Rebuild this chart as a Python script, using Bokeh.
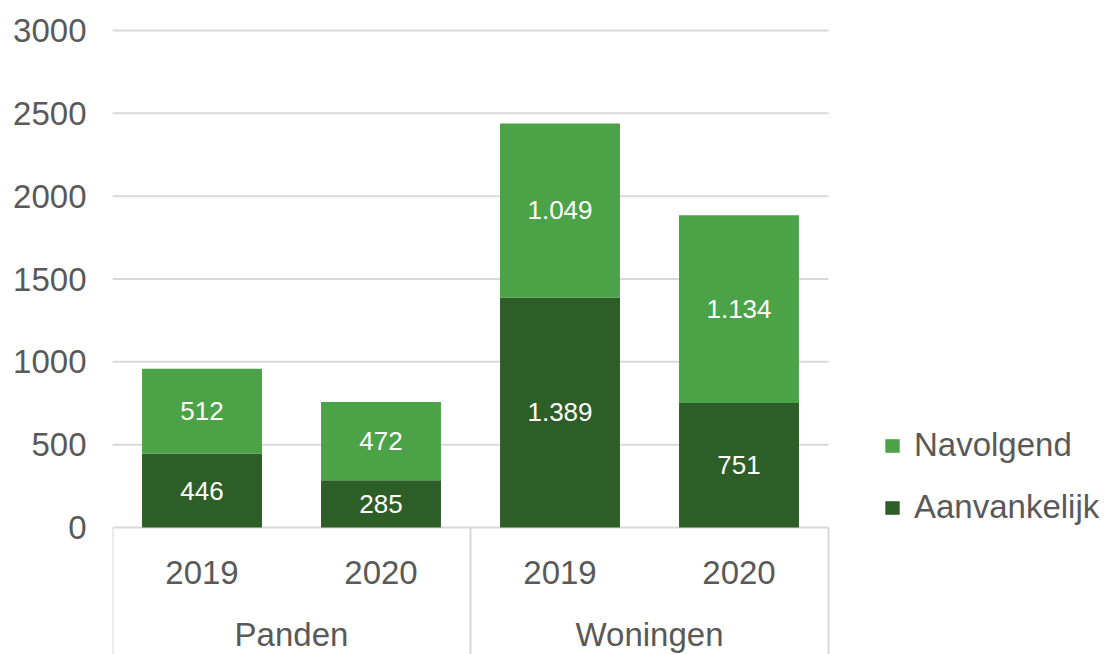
from bokeh.plotting import figure
from bokeh.models import Range1d, FixedTicker, ColumnDataSource, Legend, LegendItem
from bokeh.core.properties import value
from bokeh.embed import file_html
from bokeh.resources import INLINE

# ---- data ----
groups = ["Panden", "Panden", "Woningen", "Woningen"]
years = ["2019", "2020", "2019", "2020"]
aanvankelijk = [446, 285, 1389, 751]
navolgend = [512, 472, 1049, 1134]
group_names = ["Panden", "Woningen"]
y_ticks = [0, 500, 1000, 1500, 2000, 2500, 3000]

DARK = "#2e5e28"
LIGHT = "#4ca347"
GRAY_TXT = "#595959"
GRID = "#d9d9d9"
FONT = "Liberation Sans"


def fmt(v):
    return f"{v:,}".replace(",", ".")


# category index positions (one unit per bar slot)
xs = list(range(len(years)))
group_x = [sum(i for i, g in zip(xs, groups) if g == name) /
           groups.count(name) for name in group_names]
group_edges = [-0.5] + [i + 0.5 for i in range(len(groups))
                        if i == len(groups) - 1 or groups[i] != groups[i + 1]]
totals = [a + n for a, n in zip(aanvankelijk, navolgend)]

PX = 3000 / 497.0          # data units per screen pixel
SLOT_PX = 179.0            # pixels per category slot
TOP_PAD_PX = 10
BOTTOM_PX = 127            # category-label band below zero
W, H = 1105, 654
LEFT = 112

x_range = Range1d(-0.5, -0.5 + (W - LEFT) / SLOT_PX)
y_range = Range1d(-BOTTOM_PX * PX, 3000 + TOP_PAD_PX * PX)

p = figure(width=W, height=H, x_range=x_range, y_range=y_range,
           output_backend="svg", toolbar_location=None,
           min_border_left=LEFT, min_border_right=0,
           min_border_top=20, min_border_bottom=0)
p.outline_line_color = None
p.xaxis.visible = False
p.xgrid.visible = False
p.ygrid.visible = False

yax = p.yaxis[0]
yax.ticker = FixedTicker(ticks=y_ticks)
yax.axis_line_color = None
yax.major_tick_line_color = None
yax.minor_tick_line_color = None
yax.major_tick_out = 0
yax.major_tick_in = 0
yax.major_label_standoff = 26
yax.major_label_text_font = FONT
yax.major_label_text_font_size = "33px"
yax.major_label_text_color = GRAY_TXT

# horizontal gridlines across the category span only
x_lo, x_hi = -0.5, len(xs) - 0.5
p.segment(x0=[x_lo] * len(y_ticks), x1=[x_hi] * len(y_ticks),
          y0=y_ticks, y1=y_ticks, line_color=GRID, line_width=2)

src = ColumnDataSource(dict(
    x=xs,
    a=aanvankelijk,
    tot=totals,
    a_mid=[a / 2 for a in aanvankelijk],
    n_mid=[a + n / 2 for a, n in zip(aanvankelijk, navolgend)],
    a_lbl=[fmt(v) for v in aanvankelijk],
    n_lbl=[fmt(v) for v in navolgend],
))

r_a = p.vbar(x="x", bottom=0, top="a", width=0.67, source=src,
             fill_color=DARK, line_color=None)
r_n = p.vbar(x="x", bottom="a", top="tot", width=0.67, source=src,
             fill_color=LIGHT, line_color=None)

for ycol, tcol in (("a_mid", "a_lbl"), ("n_mid", "n_lbl")):
    p.text(x="x", y=ycol, text=tcol, source=src, text_color="white",
           text_font=value(FONT), text_font_size="26px",
           text_align="center", text_baseline="middle")

# category axis band
p.segment(x0=group_edges, x1=group_edges, y0=[0] * len(group_edges),
          y1=[-BOTTOM_PX * PX] * len(group_edges), line_color=GRID, line_width=2)

p.text(x=xs, y=[-45 * PX] * len(xs), text=years, text_color=GRAY_TXT,
       text_font=value(FONT), text_font_size="33px",
       text_align="center", text_baseline="middle")
p.text(x=group_x, y=[-107 * PX] * len(group_names), text=group_names,
       text_color=GRAY_TXT, text_font=value(FONT), text_font_size="33px",
       text_align="center", text_baseline="middle")

legend = Legend(items=[LegendItem(label="Navolgend", renderers=[r_n]),
                       LegendItem(label="Aanvankelijk", renderers=[r_a])],
                location=(771, 128), orientation="vertical",
                glyph_width=18, glyph_height=17, label_standoff=13,
                spacing=24, padding=0, margin=0,
                border_line_alpha=0, background_fill_alpha=0,
                label_text_font=FONT, label_text_font_size="33px",
                label_text_color=GRAY_TXT)
p.add_layout(legend)

open("out.html", "w").write(file_html(p, INLINE))
